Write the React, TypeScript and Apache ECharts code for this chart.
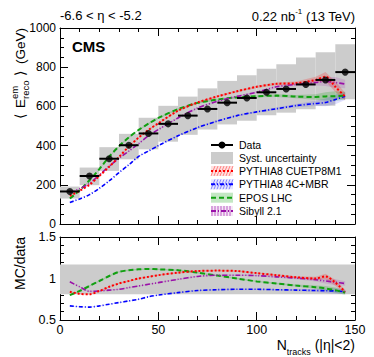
import React, { useEffect, useRef } from "react";
import * as echarts from "echarts";

const FONT = '"Liberation Sans", Arial, Helvetica, sans-serif';

// ---- data ----
const binEdges = [0, 10, 20, 30, 40, 50, 60, 70, 80, 90, 100, 110, 120, 130, 140, 150];
const dataX = [5, 15, 25, 35, 45, 55, 65, 75, 85, 95, 105, 115, 125, 135, 145];
const dataY = [166, 245, 333, 402, 462, 511, 553, 587, 619, 643, 672, 689, 712, 735, 775];
const sysLow = [130, 198, 271, 330, 381, 420, 455, 482, 508, 527, 555, 568, 585, 603, 636];
const sysHigh = [191, 288, 392, 460, 542, 603, 650, 692, 730, 759, 792, 815, 850, 876, 917];

const mcX = [5, 10, 15, 20, 25, 30, 35, 40, 45, 50, 60, 70, 80, 90, 100, 110, 120, 130, 135, 140, 145];
const cuetpTop = [144, 170, 200, 245, 292, 342, 395, 441, 480, 514, 578, 620, 651, 677, 700, 715, 718, 735, 752, 700, 650];
const mbrTop = [110, 128, 150, 182, 220, 262, 302, 345, 372, 400, 450, 492, 525, 553, 572, 588, 604, 615, 620, 635, 652];
const eposTop = [130, 172, 223, 280, 343, 397, 442, 480, 512, 541, 586, 618, 635, 646, 652, 655, 650, 648, 651, 652, 655];
const sibyllTop = [160, 180, 208, 250, 295, 335, 372, 410, 450, 482, 541, 592, 626, 651, 672, 700, 712, 722, 727, 722, 714];

const cuetpRatio = [0.84, 0.815, 0.81, 0.85, 0.9, 0.94, 0.97, 1.0, 1.02, 1.04, 1.07, 1.09, 1.095, 1.09, 1.065, 1.04, 1.015, 1.0, 1.025, 0.95, 0.84];
const mbrRatio = [0.67, 0.66, 0.655, 0.67, 0.69, 0.71, 0.73, 0.75, 0.78, 0.8, 0.83, 0.855, 0.865, 0.87, 0.87, 0.865, 0.86, 0.855, 0.852, 0.85, 0.84];
const eposRatio = [0.8, 0.85, 0.91, 0.97, 1.03, 1.08, 1.1, 1.11, 1.115, 1.11, 1.1, 1.07, 1.035, 1.0, 0.965, 0.94, 0.915, 0.895, 0.88, 0.86, 0.83];
const sibyllRatio = [0.96, 0.9, 0.845, 0.85, 0.86, 0.87, 0.89, 0.91, 0.93, 0.95, 0.99, 1.025, 1.04, 1.04, 1.035, 1.02, 1.005, 0.985, 0.97, 0.955, 0.94];

const mcBandRel = [0.008, 0.008, 0.008, 0.008, 0.008, 0.008, 0.008, 0.008, 0.008, 0.008, 0.008, 0.008, 0.008, 0.008, 0.008, 0.01, 0.013, 0.022, 0.032, 0.038, 0.03];
const ratioSyst = [0.81, 1.17];

const RED = "#ff0000";
const BLUE = "#0000ff";
const GREEN = "#11a011";
const PURPLE = "#9a10a8";

const pairs = (xs: number[], ys: number[]) => xs.map((x, i) => [x, ys[i]]);

function bandSeries(ys: number[], fill: string, xi: number, yi: number) {
  return {
    type: "custom",
    xAxisIndex: xi,
    yAxisIndex: yi,
    silent: true,
    z: 2,
    data: [[0]],
    renderItem: (_p: any, api: any) => {
      const up = mcX.map((x, i) => api.coord([x, ys[i] * (1 + mcBandRel[i])]));
      const lo = mcX.map((x, i) => api.coord([x, ys[i] * (1 - mcBandRel[i])])).reverse();
      return { type: "polygon", shape: { points: up.concat(lo) }, style: { fill } };
    },
  };
}

function lineSeries(ys: number[], color: string, width: number, type: number[], xi: number, yi: number) {
  return {
    type: "line",
    xAxisIndex: xi,
    yAxisIndex: yi,
    data: pairs(mcX, ys),
    smooth: 0.3,
    symbol: "none",
    silent: true,
    z: 3,
    lineStyle: { color, width, type },
  };
}

function axisCommon(extra: any) {
  return {
    type: "value",
    axisLine: { show: true, onZero: false, lineStyle: { color: "#000", width: 1 } },
    axisTick: { show: true, inside: true, length: 8, lineStyle: { color: "#000" } },
    minorTick: { show: true, length: 4, lineStyle: { color: "#000" } },
    splitLine: { show: false },
    minorSplitLine: { show: false },
    ...extra,
  };
}

function legendGraphics() {
  const x0 = 211;
  const w = 22;
  const tx = 239;
  const rows = [145, 158, 171, 184.3, 197.7, 211];
  const labels = ["Data", "Syst. uncertainty", "PYTHIA8 CUETP8M1", "PYTHIA8 4C+MBR", "EPOS LHC", "Sibyll 2.1"];
  const els: any[] = [];
  rows.forEach((y, i) => {
    els.push({
      type: "text",
      x: tx,
      y,
      style: { text: labels[i], font: `10.5px ${FONT}`, fill: "#000", verticalAlign: "middle", align: "left" },
    });
  });
  // Data
  els.push({ type: "line", shape: { x1: x0, y1: rows[0], x2: x0 + w, y2: rows[0] }, style: { stroke: "#000", lineWidth: 2 } });
  els.push({ type: "circle", shape: { cx: x0 + w / 2, cy: rows[0], r: 3.5 }, style: { fill: "#000" } });
  // Syst
  els.push({ type: "rect", shape: { x: x0, y: rows[1] - 6, width: w, height: 12 }, style: { fill: "#cccccc" } });
  const hatched = (y: number, color: string, fill: string, dash: number[], mode: string) => {
    els.push({ type: "rect", shape: { x: x0, y: y - 5, width: w, height: 10 }, style: { fill } });
    for (let k = 0; k <= w - 4; k += 3) {
      if (mode === "diag") {
        els.push({ type: "line", shape: { x1: x0 + k, y1: y + 5, x2: x0 + k + 4, y2: y - 5 }, style: { stroke: color, lineWidth: 0.6, opacity: 0.7 } });
      } else if (mode === "vert") {
        els.push({ type: "line", shape: { x1: x0 + k + 1, y1: y + 5, x2: x0 + k + 1, y2: y - 5 }, style: { stroke: color, lineWidth: 0.8, opacity: 0.8 } });
      }
    }
    els.push({ type: "line", shape: { x1: x0, y1: y, x2: x0 + w, y2: y }, style: { stroke: color, lineWidth: 2, lineDash: dash } });
  };
  hatched(rows[2], RED, "rgba(255,0,0,0.12)", [2, 2], "diag");
  hatched(rows[3], BLUE, "rgba(0,0,255,0.10)", [4, 2, 1, 2], "diag");
  hatched(rows[4], GREEN, "rgba(17,160,17,0.25)", [5, 3], "none");
  hatched(rows[5], PURPLE, "rgba(154,16,168,0.10)", [5, 2, 1, 2], "vert");
  return els;
}

function yTitleGraphic() {
  const f = 13.5;
  const children: any[] = [
    { type: "text", x: 0, y: 0, style: { text: "(GeV)", font: `${f}px ${FONT}`, fill: "#000", align: "right", verticalAlign: "middle" } },
    { type: "text", x: -43, y: 0, style: { text: "\u27E9", font: `${f}px ${FONT}`, fill: "#000", align: "right", verticalAlign: "middle" } },
    { type: "text", x: -71, y: 5, style: { text: "reco", font: `9.5px ${FONT}`, fill: "#000", align: "left", verticalAlign: "middle" } },
    { type: "text", x: -71, y: -6, style: { text: "em", font: `9.5px ${FONT}`, fill: "#000", align: "left", verticalAlign: "middle" } },
    { type: "text", x: -71, y: 0, style: { text: "E", font: `${f}px ${FONT}`, fill: "#000", align: "right", verticalAlign: "middle" } },
    { type: "text", x: -86, y: 0, style: { text: "\u27E8", font: `${f}px ${FONT}`, fill: "#000", align: "right", verticalAlign: "middle" } },
  ];
  return { type: "group", x: 20, y: 28, rotation: Math.PI / 2, children };
}

export default function App() {
  const ref = useRef<HTMLDivElement>(null);

  useEffect(() => {
    if (!ref.current) return;
    const chart = echarts.init(ref.current, undefined, { renderer: "svg" });

    const option: any = {
      animation: false,
      backgroundColor: "#ffffff",
      textStyle: { fontFamily: FONT },
      grid: [
        { left: 60, top: 28, width: 295, height: 196, containLabel: false },
        { left: 60, top: 237, width: 295, height: 83, containLabel: false },
      ],
      xAxis: [
        axisCommon({ gridIndex: 0, min: 0, max: 150, interval: 50, position: "bottom", axisLabel: { show: false }, minorTick: { show: true, splitNumber: 5, length: 4, lineStyle: { color: "#000" } } }),
        axisCommon({ gridIndex: 0, min: 0, max: 150, interval: 50, position: "top", axisLabel: { show: false }, minorTick: { show: true, splitNumber: 5, length: 4, lineStyle: { color: "#000" } } }),
        axisCommon({
          gridIndex: 1, min: 0, max: 150, interval: 50, position: "bottom",
          axisLabel: { show: true, color: "#000", fontSize: 12.5, fontFamily: FONT, margin: 3, formatter: (v: number) => String(v) },
          minorTick: { show: true, splitNumber: 5, length: 4, lineStyle: { color: "#000" } },
        }),
        axisCommon({ gridIndex: 1, min: 0, max: 150, interval: 50, position: "top", axisLabel: { show: false }, minorTick: { show: true, splitNumber: 5, length: 4, lineStyle: { color: "#000" } } }),
      ],
      yAxis: [
        axisCommon({
          gridIndex: 0, min: 0, max: 1000, interval: 200, position: "left",
          axisLabel: { show: true, color: "#000", fontSize: 12, fontFamily: FONT, margin: 4, formatter: (v: number) => String(v) },
          minorTick: { show: true, splitNumber: 4, length: 4, lineStyle: { color: "#000" } },
        }),
        axisCommon({ gridIndex: 0, min: 0, max: 1000, interval: 200, position: "right", axisLabel: { show: false }, minorTick: { show: true, splitNumber: 4, length: 4, lineStyle: { color: "#000" } } }),
        axisCommon({
          gridIndex: 1, min: 0.5, max: 1.5, interval: 0.5, position: "left",
          axisLabel: { show: true, color: "#000", fontSize: 12.5, fontFamily: FONT, margin: 4, formatter: (v: number) => String(v) },
          minorTick: { show: true, splitNumber: 5, length: 4, lineStyle: { color: "#000" } },
        }),
        axisCommon({ gridIndex: 1, min: 0.5, max: 1.5, interval: 0.5, position: "right", axisLabel: { show: false }, minorTick: { show: true, splitNumber: 5, length: 4, lineStyle: { color: "#000" } } }),
      ],
      series: [
        // systematic boxes
        {
          type: "custom",
          xAxisIndex: 0,
          yAxisIndex: 0,
          silent: true,
          z: 1,
          data: dataX.map((_, i) => [binEdges[i], binEdges[i + 1], sysLow[i], sysHigh[i]]),
          encode: { x: [0, 1], y: [2, 3] },
          renderItem: (_p: any, api: any) => {
            const a = api.coord([api.value(0), api.value(3)]);
            const b = api.coord([api.value(1), api.value(2)]);
            return { type: "rect", shape: { x: a[0], y: a[1], width: b[0] - a[0], height: b[1] - a[1] }, style: { fill: "#cccccc" } };
          },
        },
        // ratio systematic band
        {
          type: "custom",
          xAxisIndex: 2,
          yAxisIndex: 2,
          silent: true,
          z: 1,
          data: [[binEdges[0], binEdges[binEdges.length - 1], ratioSyst[0], ratioSyst[1]]],
          encode: { x: [0, 1], y: [2, 3] },
          renderItem: (_p: any, api: any) => {
            const a = api.coord([api.value(0), api.value(3)]);
            const b = api.coord([api.value(1), api.value(2)]);
            return { type: "rect", shape: { x: a[0], y: a[1], width: b[0] - a[0], height: b[1] - a[1] }, style: { fill: "#cccccc" } };
          },
        },
        bandSeries(eposTop, "rgba(17,160,17,0.22)", 0, 0),
        bandSeries(mbrTop, "rgba(0,0,255,0.12)", 0, 0),
        bandSeries(sibyllTop, "rgba(154,16,168,0.15)", 0, 0),
        bandSeries(cuetpTop, "rgba(255,0,0,0.2)", 0, 0),
        bandSeries(eposRatio, "rgba(17,160,17,0.22)", 2, 2),
        bandSeries(mbrRatio, "rgba(0,0,255,0.12)", 2, 2),
        bandSeries(sibyllRatio, "rgba(154,16,168,0.15)", 2, 2),
        bandSeries(cuetpRatio, "rgba(255,0,0,0.2)", 2, 2),
        lineSeries(mbrTop, BLUE, 1.6, [4, 2, 1, 2], 0, 0),
        lineSeries(eposTop, GREEN, 2, [5, 3], 0, 0),
        lineSeries(sibyllTop, PURPLE, 1.6, [5, 2, 1, 2, 1, 2], 0, 0),
        lineSeries(cuetpTop, RED, 2, [2, 2], 0, 0),
        lineSeries(mbrRatio, BLUE, 1.6, [4, 2, 1, 2], 2, 2),
        lineSeries(eposRatio, GREEN, 2, [5, 3], 2, 2),
        lineSeries(sibyllRatio, PURPLE, 1.6, [5, 2, 1, 2, 1, 2], 2, 2),
        lineSeries(cuetpRatio, RED, 2, [2, 2], 2, 2),
        // data horizontal error bars
        {
          type: "custom",
          xAxisIndex: 0,
          yAxisIndex: 0,
          silent: true,
          z: 4,
          data: dataX.map((_, i) => [binEdges[i], binEdges[i + 1], dataY[i]]),
          encode: { x: [0, 1], y: 2 },
          renderItem: (_p: any, api: any) => {
            const a = api.coord([api.value(0), api.value(2)]);
            const b = api.coord([api.value(1), api.value(2)]);
            return { type: "line", shape: { x1: a[0], y1: a[1], x2: b[0], y2: b[1] }, style: { stroke: "#000", lineWidth: 2 } };
          },
        },
        {
          type: "scatter",
          xAxisIndex: 0,
          yAxisIndex: 0,
          silent: true,
          z: 5,
          symbol: "circle",
          symbolSize: 7,
          itemStyle: { color: "#000" },
          data: pairs(dataX, dataY),
        },
      ],
      graphic: [
        {
          type: "text",
          x: 60,
          y: 15,
          style: { text: "-6.6 < \u03B7 < -5.2", font: `13px ${FONT}`, fill: "#000", verticalAlign: "middle", align: "left" },
        },
        {
          type: "text",
          x: 355,
          y: 15,
          style: {
            text: "{n|0.22 nb}{s|-1}{n| (13 TeV)}",
            align: "right",
            verticalAlign: "middle",
            rich: {
              n: { fontSize: 13, fontFamily: FONT, color: "#000", lineHeight: 16, verticalAlign: "bottom" },
              s: { fontSize: 8, fontFamily: FONT, color: "#000", lineHeight: 16, verticalAlign: "top" },
            },
          },
        },
        {
          type: "text",
          x: 72,
          y: 46,
          style: { text: "CMS", font: `bold 15px ${FONT}`, fill: "#000", verticalAlign: "middle", align: "left" },
        },
        yTitleGraphic(),
        {
          type: "text",
          x: 20,
          y: 237,
          rotation: Math.PI / 2,
          style: { text: "MC/data", font: `14px ${FONT}`, fill: "#000", verticalAlign: "middle", align: "right" },
        },
        {
          type: "text",
          x: 355,
          y: 347,
          style: {
            text: "{n|N}{s|tracks}{n| (|\u03B7|<2)}",
            align: "right",
            verticalAlign: "middle",
            rich: {
              n: { fontSize: 14, fontFamily: FONT, color: "#000", lineHeight: 18, verticalAlign: "top" },
              s: { fontSize: 9, fontFamily: FONT, color: "#000", lineHeight: 18, verticalAlign: "bottom" },
            },
          },
        },
        ...legendGraphics(),
      ],
    };

    chart.setOption(option);
    return () => chart.dispose();
  }, []);

  return (
    <div
      ref={ref}
      style={{ position: "fixed", left: 0, top: 0, width: 374, height: 357, background: "#fff" }}
    />
  );
}
